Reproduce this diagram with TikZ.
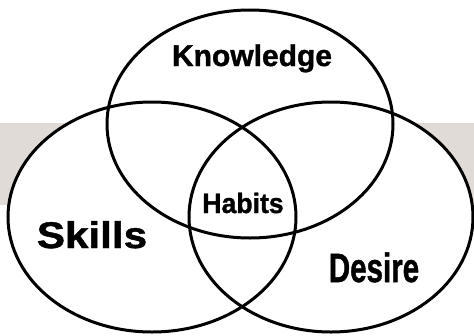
\documentclass[tikz,border=0pt]{standalone}
\usepackage{fontspec}
\setmainfont{Liberation Sans}
\newfontfamily\heavyfont{Liberation Sans Bold}[FakeBold=1.2]
\usepackage{tikz}
\usetikzlibrary{calc}

\begin{document}
\begin{tikzpicture}[x=1pt,y=-1pt,ring/.style={line width=3pt},lbl/.style={anchor=base,inner sep=0pt,font=\heavyfont}]
\useasboundingbox (0,0) rectangle (474,335);
\fill[fill={rgb,255:red,224;green,219;blue,214}] (0,123) rectangle (474,205);
\coordinate (know) at (250,124);
\coordinate (skill) at (152,217);
\coordinate (desire) at (331,217);
\fill[white] (know) ellipse [x radius=143,y radius=114];
\fill[white] (skill) ellipse [x radius=144,y radius=115];
\fill[white] (desire) ellipse [x radius=142,y radius=115];
\draw[ring] (know) ellipse [x radius=143,y radius=114];
\draw[ring] (skill) ellipse [x radius=144,y radius=115];
\draw[ring] (desire) ellipse [x radius=142,y radius=115];
\draw (252,66) node (k) [lbl] {\fontsize{30}{30}\selectfont Knowledge};
\draw (92,248) node (s) [lbl,xscale=1.14] {\fontsize{37}{37}\selectfont Skills};
\draw (374,282) node (d) [lbl,xscale=0.72] {\fontsize{41}{41}\selectfont Desire};
\draw (243,213) node (h) [lbl,xscale=0.95] {\fontsize{28}{28}\selectfont Habits};
\end{tikzpicture}
\end{document}
